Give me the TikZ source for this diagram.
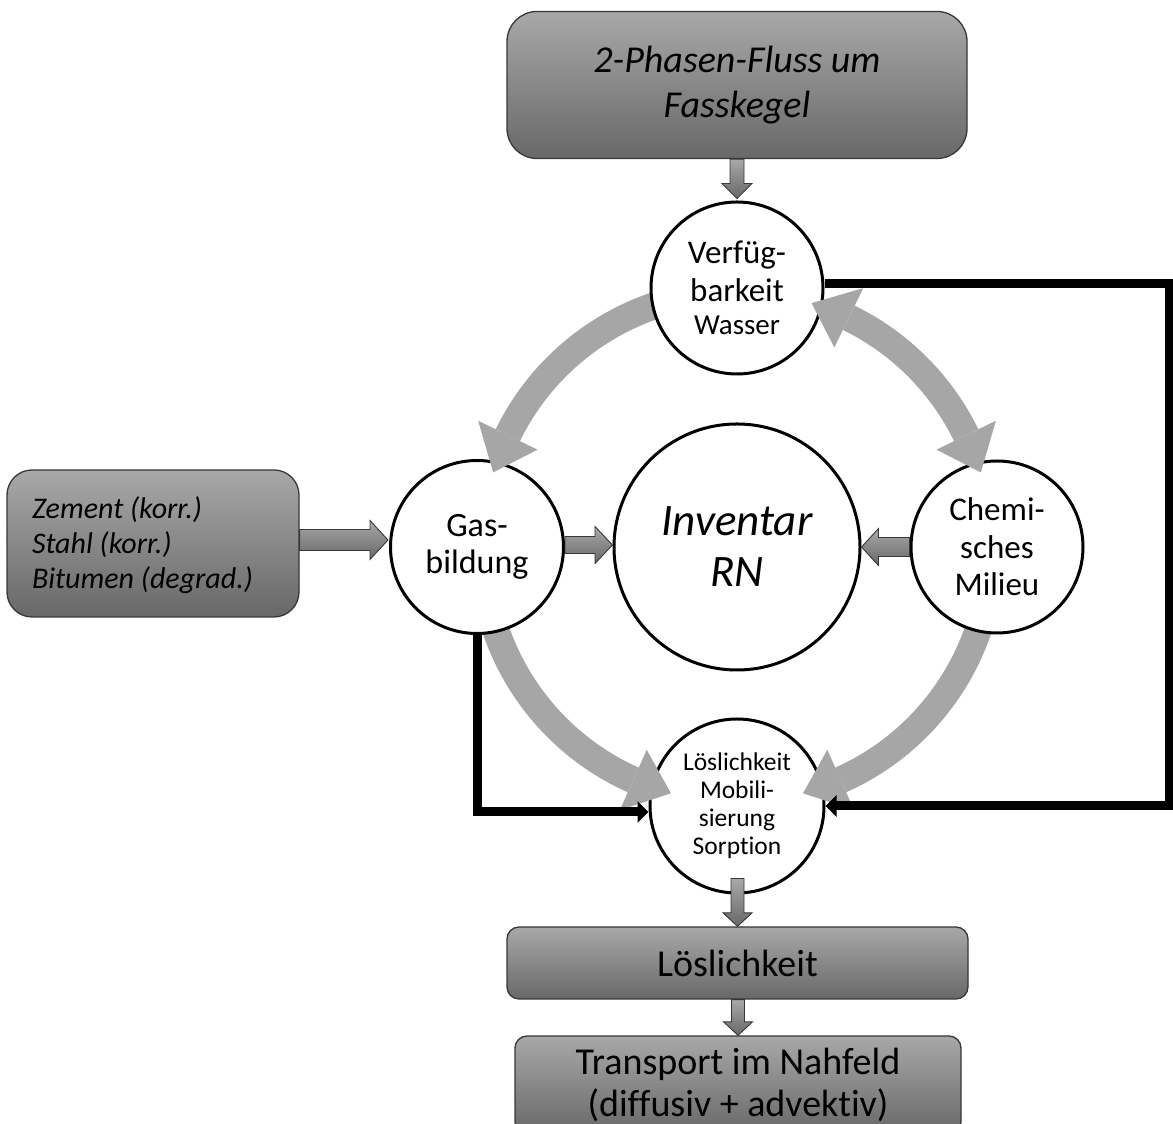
\documentclass[tikz,border=0pt]{standalone}
\usepackage{fontspec}
\setmainfont{Carlito}[Ligatures={NoCommon}]
\usetikzlibrary{arrows.meta,calc}
\definecolor{boxtop}{RGB}{168,168,168}
\definecolor{boxbot}{RGB}{104,104,104}
\definecolor{boxedge}{RGB}{55,55,55}
\definecolor{arcgray}{RGB}{166,166,166}
\pgfdeclarelayer{bg}
\pgfsetlayers{bg,main}
\newcommand{\blkV}[5]{\path[blk] let \p1=(#1), \p2=(#2) in (\x2-#3,\y1) -- (\x2-#3,\y2+#5) -- (\x2-#4,\y2+#5) -- (\x2,\y2) -- (\x2+#4,\y2+#5) -- (\x2+#3,\y2+#5) -- (\x2+#3,\y1) -- cycle;}
% #5 = head length times direction sign (+ right, - left), in pt as a number
\newcommand{\blkH}[5]{\path[blk] let \p1=(#1), \p2=(#2), \n1={#5} in (\x1,\y2+#3) -- ({\x2-\n1},\y2+#3) -- ({\x2-\n1},\y2+#4) -- (\x2,\y2) -- ({\x2-\n1},\y2-#4) -- ({\x2-\n1},\y2-#3) -- (\x1,\y2-#3) -- cycle;}
\newcommand{\ghead}[2]{\fill[arcgray] ($(inv.center)+(#1:255pt)$) -- ($(inv.center)+(#2:288pt)$) -- ($(inv.center)+(#2:222pt)$) -- cycle;}
\begin{document}
\begin{tikzpicture}[x=1pt,y=1pt,
 box/.style={draw=boxedge, line width=1.3pt, rounded corners=#1, top color=boxtop, bottom color=boxbot, inner sep=0pt, align=center},
 circ/.style={circle, draw=black, line width=3pt, fill=white, inner sep=0pt, minimum size=#1, align=center},
 blk/.style={draw=boxedge, line width=0.9pt, top color=boxtop, bottom color=boxbot, line join=miter},
 band/.style={draw=arcgray, line width=27pt},
 conn/.style={draw=black, line width=9pt, line join=miter, -{Triangle[length=11pt,width=21pt]}}]

\useasboundingbox (0,0) rectangle (1173,1124);
\clip (0,0) rectangle (1173,1124);

% boxes
\node[box=30pt, minimum width=460pt, minimum height=147pt, font={\fontsize{38pt}{45pt}\selectfont\itshape}] (top) at (737,1039) {2-Phasen-Fluss um\\Fasskegel};
\node[box=25pt, minimum width=292pt, minimum height=147pt, text width=242pt, align=flush left, font={\fontsize{30pt}{35pt}\selectfont\itshape}] (leftbox) at (153,580.5) {\rule{0pt}{26pt}Zement (korr.)\\Stahl (korr.)\\Bitumen (degrad.)};
\node[box=12pt, minimum width=461pt, minimum height=72pt, font={\fontsize{38pt}{45pt}\selectfont}] (lbox) at (737.5,161) {Löslichkeit};
\node[box=12pt, minimum width=446pt, minimum height=98pt, font={\fontsize{38pt}{42pt}\selectfont}] (tbox) at (738,39) {Transport im Nahfeld\\(diffusiv + advektiv)};

% circles
\node[circ=172pt, font={\fontsize{33pt}{37.5pt}\selectfont}] (wat) at (737,836) {Verfüg-\\barkeit\\[-4pt]{\fontsize{29pt}{34pt}\selectfont Wasser}};
\node[circ=173pt, font={\fontsize{34pt}{37.7pt}\selectfont}] (gas) at (477,577) {Gas-\\bildung};
\node[circ=246pt, font={\fontsize{45pt}{51pt}\selectfont\itshape}] (inv) at (737,577) {Inventar\\RN};
\node[circ=172pt, font={\fontsize{33pt}{37.5pt}\selectfont}] (chem) at (997,577) {Chemi-\\sches\\Milieu};
\node[circ=174pt, font={\fontsize{25.5pt}{28pt}\selectfont}] (loes) at (737,318) {Löslichkeit\\Mobili-\\sierung\\Sorption};

% gray curved bands (behind circles)
\begin{pgfonlayer}{bg}
\draw[band] ($(inv.center)+(95:255pt)$) arc[start angle=95, end angle=154, radius=255pt];
\draw[band] ($(inv.center)+(64:255pt)$) arc[start angle=64, end angle=26, radius=255pt];
\draw[band] ($(inv.center)+(185:255pt)$) arc[start angle=185, end angle=246, radius=255pt];
\draw[band] ($(inv.center)+(-5:255pt)$) arc[start angle=-5, end angle=-66, radius=255pt];
\end{pgfonlayer}

% gray heads (on top of circles)
\ghead{163}{154}
\ghead{73}{64}
\ghead{17}{26}
\ghead{255}{246}
\ghead{-75}{-66}

% block arrows
\blkV{top.south}{[yshift=2pt]wat.north}{7pt}{15pt}{15pt}
\blkH{leftbox.east}{[xshift=-1pt,yshift=7pt]gas.west}{10.5pt}{19.5pt}{18}
\blkH{gas.east}{[yshift=2pt]inv.west}{8.5pt}{18.5pt}{17.5}
\blkH{chem.west}{inv.east}{9.5pt}{18.5pt}{-17}
\blkV{[yshift=16pt]loes.south}{lbox.north}{6.5pt}{14.5pt}{13.5pt}
\blkV{lbox.south}{tbox.north}{6.5pt}{14.5pt}{13.5pt}

% black connectors
\coordinate (rc) at (1169,840);
\draw[conn] ([yshift=4pt]wat.east) -- (rc) |- (loes.east);
\draw[conn] (gas.south) |- ([yshift=-6pt]loes.west);
\end{tikzpicture}
\end{document}
